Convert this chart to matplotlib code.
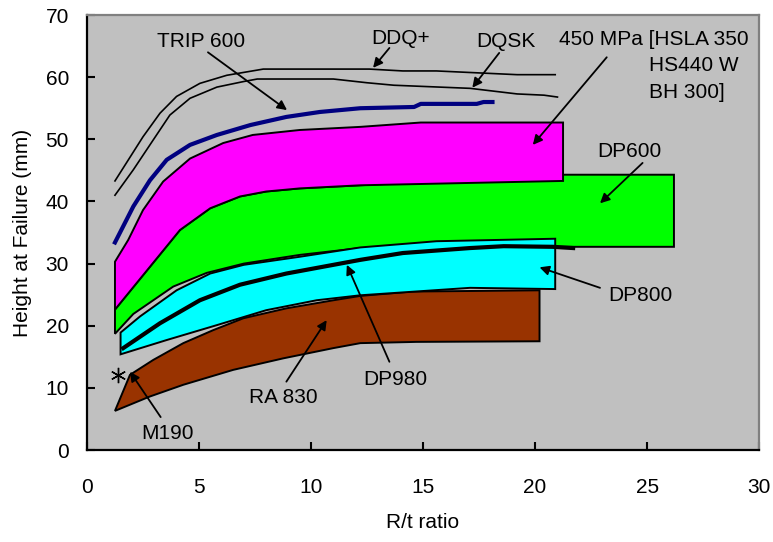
import numpy as np
import matplotlib
matplotlib.use("Agg")
import matplotlib.pyplot as plt

plt.rcParams['font.family'] = ['Liberation Sans', 'DejaVu Sans']

# ---- data (R/t ratio, height at failure in mm) ----

ddq_x = [1.25, 2.5, 3.26, 4.0, 5.04, 6.24, 7.87, 12.6, 14.1, 15.6, 19.2, 20.9]
ddq_y = [43.3, 50.4, 54.2, 56.9, 59.0, 60.3, 61.3, 61.3, 61.0, 61.0, 60.4, 60.4]

dqsk_x = [1.25, 2.07, 2.81, 3.7, 4.6, 5.8, 7.0, 7.6, 11.0, 12.5, 13.7, 17.1, 19.2, 20.4, 21.0]
dqsk_y = [41.0, 45.1, 49.1, 53.9, 56.6, 58.4, 59.3, 59.7, 59.7, 59.1, 58.7, 58.2, 57.3, 57.1, 56.8]

trip_x = [1.25, 2.07, 2.81, 3.56, 4.6, 5.8, 7.3, 8.9, 10.4, 12.2, 14.6, 14.9, 17.4, 17.7, 18.1]
trip_y = [33.4, 39.2, 43.4, 46.7, 49.1, 50.7, 52.3, 53.6, 54.4, 55.0, 55.2, 55.7, 55.7, 56.0, 56.0]

dp980_x = [1.62, 3.26, 5.04, 6.83, 8.9, 11.0, 12.2, 14.1, 17.1, 18.6, 20.8, 21.7]
dp980_y = [16.4, 20.4, 24.1, 26.6, 28.4, 29.8, 30.6, 31.7, 32.5, 32.8, 32.7, 32.5]

# bands: upper edge then lower edge (both left -> right)
hsla_top_x = [1.25, 1.84, 2.5, 3.4, 4.6, 6.08, 7.4, 9.5, 12.2, 14.9, 21.25]
hsla_top_y = [30.3, 33.8, 38.6, 43.2, 46.9, 49.4, 50.7, 51.5, 52.0, 52.7, 52.7]
hsla_bot_x = [1.25, 4.15, 5.5, 6.83, 8.0, 9.5, 12.2, 21.25]
hsla_bot_y = [22.6, 35.4, 38.9, 40.8, 41.6, 42.1, 42.6, 43.3]

dp600_top_x = [1.25, 4.15, 5.5, 6.83, 8.0, 9.5, 12.2, 21.0, 26.2]
dp600_top_y = [22.6, 35.4, 38.9, 40.8, 41.6, 42.1, 42.6, 44.3, 44.3]
dp600_bot_x = [1.25, 2.07, 3.85, 5.34, 7.0, 9.5, 12.2, 21.0, 26.2]
dp600_bot_y = [18.7, 21.9, 26.3, 28.5, 30.0, 31.4, 32.5, 32.7, 32.7]

dp800_top_x = [1.5, 2.37, 4.0, 5.5, 7.0, 9.5, 12.2, 15.6, 20.9]
dp800_top_y = [18.9, 21.5, 25.7, 28.4, 29.8, 31.1, 32.6, 33.6, 34.0]
dp800_bot_x = [1.5, 3.56, 5.8, 8.0, 10.25, 12.2, 17.1, 20.9]
dp800_bot_y = [15.4, 17.7, 20.1, 22.5, 24.1, 24.9, 26.1, 25.9]

ra830_top_x = [1.25, 1.92, 2.96, 4.3, 5.64, 6.98, 8.9, 11.0, 12.2, 14.5, 20.2]
ra830_top_y = [6.3, 12.1, 14.5, 17.2, 19.3, 21.2, 22.8, 24.1, 24.8, 25.5, 25.7]
ra830_bot_x = [1.25, 2.8, 4.3, 6.53, 8.76, 11.0, 12.2, 14.7, 20.2]
ra830_bot_y = [6.3, 8.6, 10.5, 12.9, 14.75, 16.4, 17.2, 17.4, 17.5]

m190_x = [1.4]
m190_y = [12.1]


def band(ax, tx, ty, bx, by, color):
    xs = list(tx) + list(bx)[::-1]
    ys = list(ty) + list(by)[::-1]
    ax.fill(xs, ys, facecolor=color, edgecolor='black', linewidth=1.4, zorder=2)


fig = plt.figure(figsize=(7.73, 5.42), dpi=100)
ax = fig.add_axes([0.1125, 0.1697, 0.8695, 0.8026])
ax.set_facecolor('#C0C0C0')

# bands, back to front
band(ax, dp600_top_x, dp600_top_y, dp600_bot_x, dp600_bot_y, '#00FF00')
band(ax, hsla_top_x, hsla_top_y, hsla_bot_x, hsla_bot_y, '#FF00FF')
band(ax, ra830_top_x, ra830_top_y, ra830_bot_x, ra830_bot_y, '#993300')
band(ax, dp800_top_x, dp800_top_y, dp800_bot_x, dp800_bot_y, '#00FFFF')

ax.plot(dp980_x, dp980_y, color='black', linewidth=3, zorder=3)
ax.plot(trip_x, trip_y, color='#000080', linewidth=3, zorder=3)
ax.plot(ddq_x, ddq_y, color='black', linewidth=1.2, zorder=3)
ax.plot(dqsk_x, dqsk_y, color='black', linewidth=1.2, zorder=3)
ax.plot(m190_x, m190_y, linestyle='none', marker=(6, 2, 0), markersize=11,
        markeredgecolor='black', markeredgewidth=1.0, zorder=4)

# ---- labels with arrows ----
fs = 15
arrow = dict(arrowstyle='-|>', color='black', lw=1.3, mutation_scale=14, shrinkA=0, shrinkB=0)

def note(text, xy, xytext, textpos):
    ax.annotate('', xy=xy, xytext=xytext, arrowprops=arrow, zorder=5)
    ax.text(textpos[0], textpos[1], text, fontsize=fs, ha='center', va='center', zorder=5)

note('TRIP 600', (8.93, 54.7), (5.4, 64.0), (5.09, 65.7))
note('DDQ+', (12.77, 61.5), (13.5, 64.7), (14.0, 66.3))
note('DQSK', (17.2, 58.3), (18.4, 63.9), (18.7, 65.7))
note('DP600', (22.9, 39.7), (24.8, 46.2), (24.2, 48.0))
note('DP800', (20.2, 29.4), (22.9, 26.1), (24.7, 24.9))
note('DP980', (11.6, 29.8), (13.5, 14.2), (13.75, 11.3))
note('RA 830', (10.7, 20.9), (8.9, 11.0), (8.75, 8.5))
note('M190', (1.92, 12.6), (3.29, 5.3), (3.6, 2.7))

ax.annotate('', xy=(19.9, 49.1), xytext=(23.2, 63.2), arrowprops=arrow, zorder=5)
ax.text(21.07, 66.0, '450 MPa [HSLA 350', fontsize=fs, ha='left', va='center')
ax.text(25.1, 61.8, 'HS440 W', fontsize=fs, ha='left', va='center')
ax.text(25.1, 57.6, 'BH 300]', fontsize=fs, ha='left', va='center')

# ---- axes styling ----
ax.set_xlim(0, 30)
ax.set_ylim(0, 70)
ax.set_xticks(np.arange(0, 31, 5))
ax.set_yticks(np.arange(0, 71, 10))
ax.tick_params(direction='in', length=6, width=1.5, labelsize=fs)
ax.tick_params(axis='x', pad=20, top=False)
ax.tick_params(axis='y', pad=13, right=False)
ax.set_xlabel('R/t ratio', fontsize=fs, labelpad=12)
ax.set_ylabel('Height at Failure (mm)', fontsize=fs, labelpad=10)

for side in ['left', 'bottom']:
    ax.spines[side].set_color('black')
    ax.spines[side].set_linewidth(1.6)
for side in ['top', 'right']:
    ax.spines[side].set_color('#808080')
    ax.spines[side].set_linewidth(1.6)

plt.savefig('out.png', dpi=100)
plt.close()
